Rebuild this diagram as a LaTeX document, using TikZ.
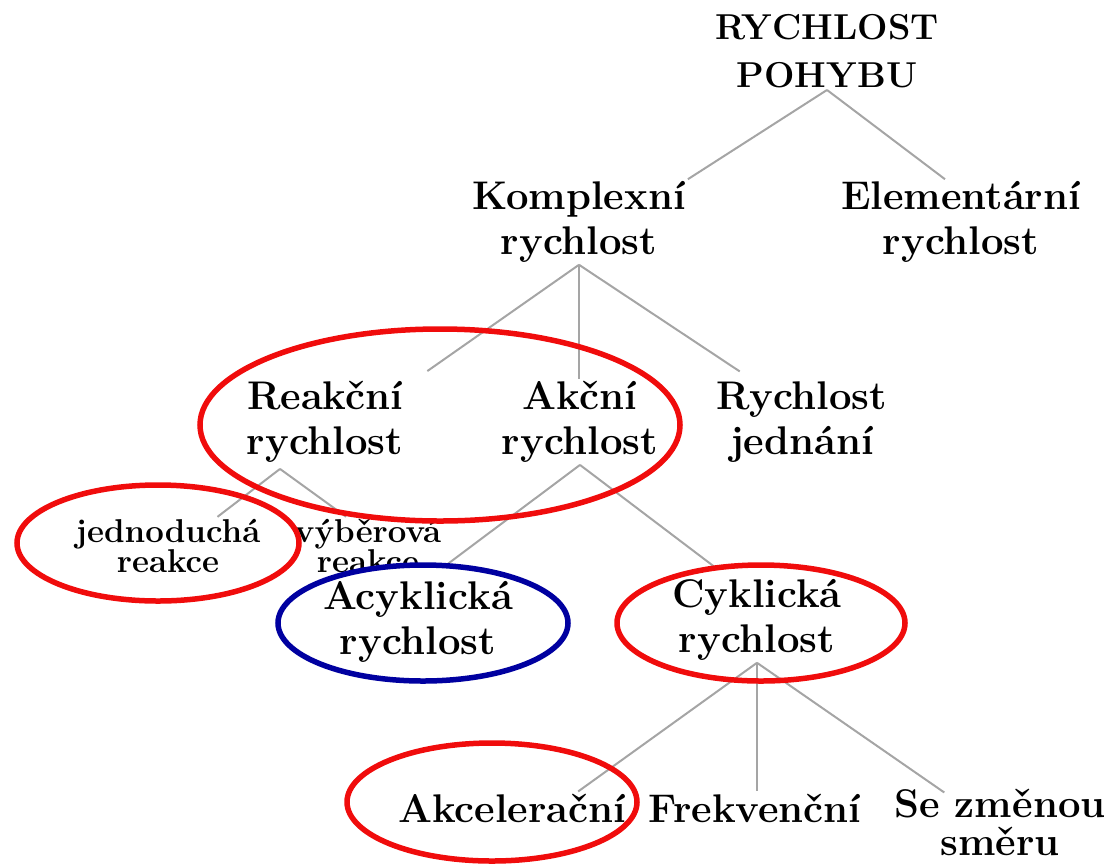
\documentclass[tikz,border=0pt]{standalone}
\usepackage{fontspec}
\pgfdeclarelayer{bg}
\pgfsetlayers{bg,main}
\definecolor{hlred}{RGB}{240,12,12}
\definecolor{hlblue}{RGB}{0,0,160}
\definecolor{edgegray}{RGB}{165,165,165}
\tikzset{
  lbl/.style={font=\bfseries\fontsize{40}{45}\selectfont, align=center, inner sep=2pt},
  toplbl/.style={font=\bfseries\fontsize{36}{48}\selectfont, align=center, inner sep=2pt},
  smalllbl/.style={font=\bfseries\fontsize{33}{28}\selectfont, align=center, inner sep=2pt},
  edge/.style={draw=edgegray, line width=2pt},
  redring/.style={draw=hlred, line width=5.5pt},
  bluering/.style={draw=hlblue, line width=5.5pt, fill=white}
}
\begin{document}
\begin{tikzpicture}[x=1pt,y=-1pt]
\useasboundingbox (0,0) rectangle (1115,865);

% tree labels
\node[toplbl] (root) at (827,51) {RYCHLOST\\POHYBU};
\node[lbl] (kompl) at (579,222) {Komplexní\\rychlost};
\node[lbl] (elem) at (961,222) {Elementární\\rychlost};
\node[lbl] (reak) at (325,422) {Reakční\\rychlost};
\node[lbl] (akc) at (580,422) {Akční\\rychlost};
\node[lbl] (jedn) at (802,422) {Rychlost\\jednání};
\node[smalllbl] (jedr) at (168,546) {jednoduchá\\reakce};
\begin{pgfonlayer}{bg}
\node[smalllbl] (vyb) at (368,546) {výběrová\\reakce};
\end{pgfonlayer}
\node[lbl] (cykl) at (757,620) {Cyklická\\rychlost};
\node[lbl] (akcel) at (512,808) {Akcelerační};
\node[lbl] (frek) at (755,808) {Frekvenční};
\node[lbl, font=\bfseries\fontsize{40}{38}\selectfont, inner sep=0pt] (smer) at (1000,822) {Se změnou\\směru};

% the acyclic branch sits on a white-filled blue ring
\draw[bluering] (423,623) ellipse [x radius=145, y radius=58];
\node[lbl] (acyk) at (418,622) {Acyklická\\rychlost};

% connectors
\begin{pgfonlayer}{bg}
\draw[edge] (root.south) -- (kompl.north east);
\draw[edge] (root.south) -- ([xshift=-16pt]elem.north);
\draw[edge] (kompl.south) -- ([xshift=22pt,yshift=8pt]reak.north east);
\draw[edge] (kompl.south) -- (kompl.south |- akc.north);
\draw[edge] (kompl.south) -- ([xshift=25pt,yshift=8pt]jedn.north west);
\draw[edge] ([xshift=-45pt,yshift=-4pt]reak.south) -- ([xshift=-45pt]jedr.north east);
\draw[edge] ([xshift=-45pt,yshift=-4pt]reak.south) -- ([xshift=-22pt]vyb.north);
\draw[edge] (akc.south) -- ([xshift=20pt,yshift=8pt]acyk.north);
\draw[edge] (akc.south) -- ([xshift=-42pt,yshift=10pt]cykl.north);
\draw[edge] (cykl.south) -- ([xshift=-50pt]akcel.north east);
\draw[edge] (cykl.south) -- (cykl.south |- frek.north);
\draw[edge] (cykl.south) -- ([xshift=50pt,yshift=-4pt]smer.north west);
\end{pgfonlayer}

% red highlight rings
\draw[redring] (440,425) ellipse [x radius=240, y radius=96];
\draw[redring] (158,543) ellipse [x radius=141, y radius=58];
\draw[redring] (761,623) ellipse [x radius=144, y radius=58];
\draw[redring] (492,802) ellipse [x radius=145, y radius=59];
\end{tikzpicture}
\end{document}
